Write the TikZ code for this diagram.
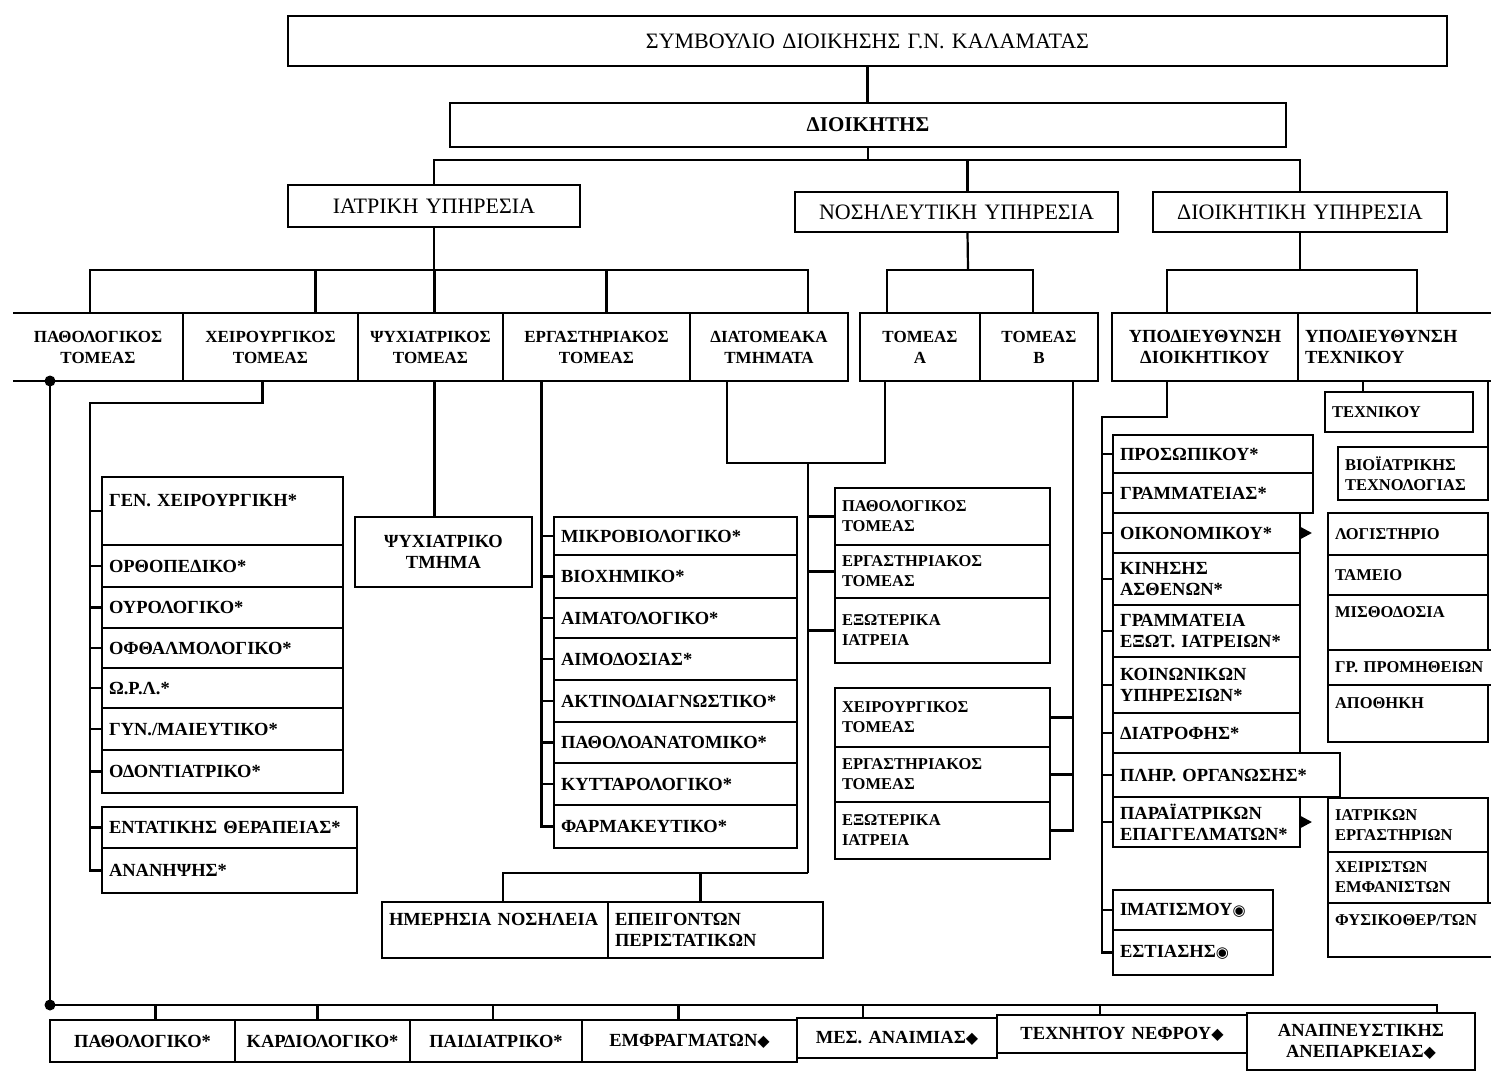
\documentclass[tikz,border=0pt]{standalone}
\usepackage{fontspec}
\setmainfont{Liberation Serif}
\newfontfamily\symf{DejaVu Sans}
\usetikzlibrary{arrows.meta}
\newcommand\dm{{\symf\fontsize{16}{16}\selectfont ◆}}
\newcommand\fe{{\symf\fontsize{15}{15}\selectfont ◉}}
\newcommand\cell[7][]{%
  \pgfmathsetmacro\cellw{#5-14}%
  \node[cellbox,anchor=north west,minimum width=#5pt,minimum height=#6pt,text width=\cellw pt,#1] (#2) at (#3,#4) {#7};}
\begin{document}
\begin{tikzpicture}[x=1pt,y=-1pt,
  cellbox/.style={draw,line width=2.2pt,inner xsep=7pt,inner ysep=2pt,outer sep=0pt,
    font=\fontsize{18.5}{21}\selectfont\bfseries,align=left},
  ctr/.style={align=center},
  big/.style={font=\fontsize{22}{26}\selectfont,align=center},
  dk/.style={font=\fontsize{21}{25}\selectfont\bfseries,align=center},
  mid/.style={font=\fontsize{22}{26}\selectfont,align=center},
  row/.style={font=\fontsize{17}{21}\selectfont\bfseries},
  sm/.style={font=\fontsize{16.5}{20}\selectfont\bfseries},
  link/.style={line width=2.2pt},
  tip/.style={line width=2.2pt,-{Triangle[length=11pt,width=11pt]},shorten >=16pt}]
\useasboundingbox (0,0) rectangle (1491,1073);
\fill[white] (0,0) rectangle (1491,1073);

% top levels
\cell[big]{smb}{288}{16}{1159}{50}{ΣΥΜΒΟΥΛΙΟ ΔΙΟΙΚΗΣΗΣ Γ.Ν. ΚΑΛΑΜΑΤΑΣ}
\cell[dk]{dkt}{450}{103}{836}{44}{ΔΙΟΙΚΗΤΗΣ}
\cell[mid]{iat}{288}{185}{292}{42}{ΙΑΤΡΙΚΗ ΥΠΗΡΕΣΙΑ}
\cell[mid]{nos}{795}{192}{323}{40}{ΝΟΣΗΛΕΥΤΙΚΗ ΥΠΗΡΕΣΙΑ}
\cell[mid]{dio}{1153}{192}{294}{40}{ΔΙΟΙΚΗΤΙΚΗ ΥΠΗΡΕΣΙΑ}

% sectors row
\cell[ctr,row,draw=none]{pat}{13}{313}{170}{68}{ΠΑΘΟΛΟΓΙΚΟΣ\\ΤΟΜΕΑΣ}
\draw[link] (pat.north west) -- (pat.north east) -- (pat.south east) -- (pat.south west);
\cell[ctr,row]{xei}{183}{313}{175}{68}{ΧΕΙΡΟΥΡΓΙΚΟΣ\\ΤΟΜΕΑΣ}
\cell[ctr,row]{psyT}{358}{313}{145}{68}{ΨΥΧΙΑΤΡΙΚΟΣ\\ΤΟΜΕΑΣ}
\cell[ctr,row]{ergT}{503}{313}{187}{68}{ΕΡΓΑΣΤΗΡΙΑΚΟΣ\\ΤΟΜΕΑΣ}
\cell[ctr,row]{diaT}{690}{313}{158}{68}{ΔΙΑΤΟΜΕΑΚΑ\\ΤΜΗΜΑΤΑ}
\cell[ctr,row]{tomA}{860}{313}{120}{68}{ΤΟΜΕΑΣ\\Α}
\cell[ctr,row]{tomB}{980}{313}{118}{68}{ΤΟΜΕΑΣ\\Β}
\cell[ctr]{ypD}{1112}{313}{186}{68}{ΥΠΟΔΙΕΥΘΥΝΣΗ\\ΔΙΟΙΚΗΤΙΚΟΥ}
\cell{ypT}{1298}{313}{200}{68}{ΥΠΟΔΙΕΥΘΥΝΣΗ\\ΤΕΧΝΙΚΟΥ}

% surgical
\cell{genx}{102}{477}{241}{68}{ΓΕΝ. ΧΕΙΡΟΥΡΓΙΚΗ*\\\mbox{}}
\cell{orth}{102}{545}{241}{42}{ΟΡΘΟΠΕΔΙΚΟ*}
\cell{ouro}{102}{587}{241}{41}{ΟΥΡΟΛΟΓΙΚΟ*}
\cell{ofth}{102}{628}{241}{40}{ΟΦΘΑΛΜΟΛΟΓΙΚΟ*}
\cell{orl}{102}{668}{241}{40}{Ω.Ρ.Λ.*}
\cell{gyn}{102}{708}{241}{42}{ΓΥΝ./ΜΑΙΕΥΤΙΚΟ*}
\cell{odon}{102}{750}{241}{43}{ΟΔΟΝΤΙΑΤΡΙΚΟ*}
\cell{enta}{102}{807}{255}{41}{ΕΝΤΑΤΙΚΗΣ ΘΕΡΑΠΕΙΑΣ*}
\cell{anan}{102}{848}{255}{45}{ΑΝΑΝΗΨΗΣ*}

% psychiatric
\cell[ctr]{psyTm}{355}{517}{177}{70}{ΨΥΧΙΑΤΡΙΚΟ\\ΤΜΗΜΑ}

% laboratory
\cell{mikro}{554}{517}{243}{38}{ΜΙΚΡΟΒΙΟΛΟΓΙΚΟ*}
\cell{bioch}{554}{555}{243}{43}{ΒΙΟΧΗΜΙΚΟ*}
\cell{aimat}{554}{598}{243}{40}{ΑΙΜΑΤΟΛΟΓΙΚΟ*}
\cell{aimod}{554}{638}{243}{42}{ΑΙΜΟΔΟΣΙΑΣ*}
\cell{aktin}{554}{680}{243}{42}{ΑΚΤΙΝΟΔΙΑΓΝΩΣΤΙΚΟ*}
\cell{patho}{554}{722}{243}{41}{ΠΑΘΟΛΟΑΝΑΤΟΜΙΚΟ*}
\cell{kytt}{554}{763}{243}{42}{ΚΥΤΤΑΡΟΛΟΓΙΚΟ*}
\cell{farm}{554}{805}{243}{43}{ΦΑΡΜΑΚΕΥΤΙΚΟ*}

% day care
\cell{hmer}{382}{902}{226}{56}{ΗΜΕΡΗΣΙΑ ΝΟΣΗΛΕΙΑ\\\mbox{}}
\cell{epeig}{608}{902}{215}{56}{ΕΠΕΙΓΟΝΤΩΝ\\ΠΕΡΙΣΤΑΤΙΚΩΝ}

% nursing sectors
\cell[sm]{tAp}{835}{488}{215}{57}{ΠΑΘΟΛΟΓΙΚΟΣ\\ΤΟΜΕΑΣ}
\cell[sm]{tAe}{835}{545}{215}{53}{ΕΡΓΑΣΤΗΡΙΑΚΟΣ\\ΤΟΜΕΑΣ}
\cell[sm]{tAx}{835}{598}{215}{65}{ΕΞΩΤΕΡΙΚΑ\\ΙΑΤΡΕΙΑ}
\cell[sm]{tBx}{835}{688}{215}{59}{ΧΕΙΡΟΥΡΓΙΚΟΣ\\ΤΟΜΕΑΣ}
\cell[sm]{tBe}{835}{747}{215}{55}{ΕΡΓΑΣΤΗΡΙΑΚΟΣ\\ΤΟΜΕΑΣ}
\cell[sm]{tBo}{835}{802}{215}{57}{ΕΞΩΤΕΡΙΚΑ\\ΙΑΤΡΕΙΑ}

% administrative
\cell{pros}{1113}{435}{200}{38}{ΠΡΟΣΩΠΙΚΟΥ*}
\cell{gram}{1113}{473}{200}{40}{ΓΡΑΜΜΑΤΕΙΑΣ*}
\cell{oik}{1113}{513}{187}{40}{ΟΙΚΟΝΟΜΙΚΟΥ*}
\cell{kin}{1113}{553}{187}{52}{ΚΙΝΗΣΗΣ\\ΑΣΘΕΝΩΝ*}
\cell{gex}{1113}{605}{187}{52}{ΓΡΑΜΜΑΤΕΙΑ\\ΕΞΩΤ. ΙΑΤΡΕΙΩΝ*}
\cell{koin}{1113}{657}{187}{56}{ΚΟΙΝΩΝΙΚΩΝ\\ΥΠΗΡΕΣΙΩΝ*}
\cell{diat}{1113}{713}{187}{40}{ΔΙΑΤΡΟΦΗΣ*}
\cell{plir}{1113}{753}{227}{44}{ΠΛΗΡ. ΟΡΓΑΝΩΣΗΣ*}
\cell{para}{1113}{797}{187}{50}{ΠΑΡΑΪΑΤΡΙΚΩΝ\\ΕΠΑΓΓΕΛΜΑΤΩΝ*}
\cell{imat}{1113}{890}{160}{40}{ΙΜΑΤΙΣΜΟΥ\fe}
\cell{esti}{1113}{930}{160}{45}{ΕΣΤΙΑΣΗΣ\fe}

\cell[sm]{log}{1328}{513}{160}{42}{ΛΟΓΙΣΤΗΡΙΟ}
\cell[sm]{tam}{1328}{555}{160}{40}{ΤΑΜΕΙΟ}
\cell[sm]{mis}{1328}{595}{160}{55}{ΜΙΣΘΟΔΟΣΙΑ\\\mbox{}}
\cell[sm]{grp}{1328}{650}{180}{35}{\mbox{ΓΡ. ΠΡΟΜΗΘΕΙΩΝ}}
\cell[sm]{apo}{1328}{685}{160}{57}{ΑΠΟΘΗΚΗ\\\mbox{}}

\cell[sm]{iatr}{1328}{798}{160}{54}{ΙΑΤΡΙΚΩΝ\\ΕΡΓΑΣΤΗΡΙΩΝ}
\cell[sm]{xeir}{1328}{852}{160}{51}{ΧΕΙΡΙΣΤΩΝ\\ΕΜΦΑΝΙΣΤΩΝ}
\cell[sm]{fys}{1328}{903}{180}{54}{\mbox{ΦΥΣΙΚΟΘΕΡ/ΤΩΝ}\\\mbox{}}

\cell[sm]{texn}{1325}{392}{148}{40}{ΤΕΧΝΙΚΟΥ}
\cell[sm]{bio}{1338}{447}{150}{53}{ΒΙΟΪΑΤΡΙΚΗΣ\\ΤΕΧΝΟΛΟΓΙΑΣ}

% bottom row
\cell[ctr]{bpat}{50}{1020}{185}{42}{ΠΑΘΟΛΟΓΙΚΟ*}
\cell[ctr]{bkar}{235}{1020}{175}{42}{ΚΑΡΔΙΟΛΟΓΙΚΟ*}
\cell[ctr]{bpai}{410}{1020}{172}{42}{ΠΑΙΔΙΑΤΡΙΚΟ*}
\cell[ctr]{bemf}{582}{1020}{215}{42}{ΕΜΦΡΑΓΜΑΤΩΝ\dm}
\cell[ctr]{bmes}{797}{1018}{200}{40}{ΜΕΣ. ΑΝΑΙΜΙΑΣ\dm}
\cell[ctr]{btex}{997}{1015}{250}{38}{ΤΕΧΝΗΤΟΥ ΝΕΦΡΟΥ\dm}
\cell[ctr]{bana}{1247}{1013}{228}{57}{ΑΝΑΠΝΕΥΣΤΙΚΗΣ\\ΑΝΕΠΑΡΚΕΙΑΣ\dm}

% ---------- connectors ----------
\draw[link] (smb.south) -- (smb.south |- dkt.north);
\coordinate (tb) at (868,160);
\draw[link] (dkt.south) -- (dkt.south |- tb);
\draw[link] (iat.north) -- (iat.north |- tb) -- (dio.north |- tb) -- (dio.north);
\draw[link] ([xshift=11pt]nos.north |- tb) -- ([xshift=11pt]nos.north);

\coordinate (ib) at (434,270);
\draw[link] (iat.south) -- (ib);
\draw[link] ([xshift=-8pt]pat.north) -- ([xshift=-8pt]pat.north |- ib) -- ([xshift=39pt]diaT.north |- ib) -- ([xshift=39pt]diaT.north);
\draw[link] ([xshift=45pt]xei.north) -- ([xshift=45pt]xei.north |- ib);
\draw[link] ([xshift=4pt]psyT.north) -- ([xshift=4pt]psyT.north |- ib);
\draw[link] ([xshift=10pt]ergT.north) -- ([xshift=10pt]ergT.north |- ib);

\coordinate (nb) at (968,270);
\draw[link] ([xshift=11pt]nos.south) -- (nb);
\draw[link] ([xshift=-33pt]tomA.north) |- (nb) -| ([xshift=-6pt]tomB.north);

\coordinate (db) at (1300,270);
\draw[link] (dio.south) -- (db);
\draw[link] ([xshift=-38pt]ypD.north) |- (db) -| ([xshift=19pt]ypT.north);

% surgical trunk
\coordinate (xs) at ([xshift=-8pt]xei.south);
\coordinate (xl) at (90,403);
\draw[link] (xs) |- (xl) -- (xl |- anan.west) -- (anan.west);
\foreach \n in {genx,orth,ouro,ofth,orl,gyn,odon,enta} \draw[link] (xl |- \n.west) -- (\n.west);

% psychiatric
\draw[link] ([xshift=4pt]psyT.south) -- ([xshift=4pt]psyT.south |- psyTm.north);

% lab trunk
\coordinate (et) at ([xshift=-55pt]ergT.south);
\draw[link] (et) -- (et |- farm.west) -- (farm.west);
\foreach \n in {mikro,bioch,aimat,aimod,aktin,patho,kytt} \draw[link] (et |- \n.west) -- (\n.west);

% inter-sector + sector A
\coordinate (dt) at ([xshift=-42pt]diaT.south);
\coordinate (dj) at (808,463);
\draw[link] (dt) |- ([xshift=-35pt]tomA.south |- dj) -- ([xshift=-35pt]tomA.south);
\coordinate (hb) at (808,873);
\draw[link] (dj) -- (hb);
\draw[link] ([xshift=8pt]hmer.north) |- (hb);
\draw[link] ([xshift=-15pt]epeig.north) -- ([xshift=-15pt]epeig.north |- hb);
\foreach \n in {tAp,tAe,tAx} \draw[link] (dj |- \n.west) -- (\n.west);

% sector B
\coordinate (tbt) at ([xshift=34pt]tomB.south);
\draw[link] (tbt) -- (tbt |- tBo.east) -- (tBo.east);
\foreach \n in {tBx,tBe} \draw[link] (tbt |- \n.east) -- (\n.east);

% administrative trunk
\coordinate (ys) at ([xshift=-38pt]ypD.south);
\coordinate (yl) at (1102,417);
\draw[link] (ys) |- (yl) -- (yl |- esti.west) -- (esti.west);
\foreach \n in {pros,gram,oik,kin,gex,koin,diat,plir,para,imat} \draw[link] (yl |- \n.west) -- (\n.west);
\draw[tip] (oik.east) -- (oik.east -| log.west);
\draw[tip] (para.east) -- (para.east -| iatr.west);

% technical
\draw[link] ([xshift=-35pt]ypT.south) -- ([xshift=-35pt]ypT.south |- texn.north);
\draw[link] (ypT.south -| bio.north east) -- (bio.north east);

% bottom bus
\coordinate (pt) at ([xshift=-48pt]pat.south);
\coordinate (bb) at (50,1005);
\draw[link] (pt) -- (bb) -- ([xshift=76pt]bana.north |- bb) -- ([xshift=76pt]bana.north);
\draw[link] ([xshift=13pt]bpat.north |- bb) -- ([xshift=13pt]bpat.north);
\draw[link] ([xshift=-5pt]bkar.north |- bb) -- ([xshift=-5pt]bkar.north);
\draw[link] ([xshift=-3pt]bpai.north |- bb) -- ([xshift=-3pt]bpai.north);
\draw[link] ([xshift=-11pt]bemf.north |- bb) -- ([xshift=-11pt]bemf.north);
\draw[link] ([xshift=-34pt]bmes.north |- bb) -- ([xshift=-34pt]bmes.north);
\draw[link] ([xshift=-22pt]btex.north |- bb) -- ([xshift=-22pt]btex.north);
\fill (pt) circle (5.5pt);
\fill (bb) circle (5.5pt);
\end{tikzpicture}
\end{document}
